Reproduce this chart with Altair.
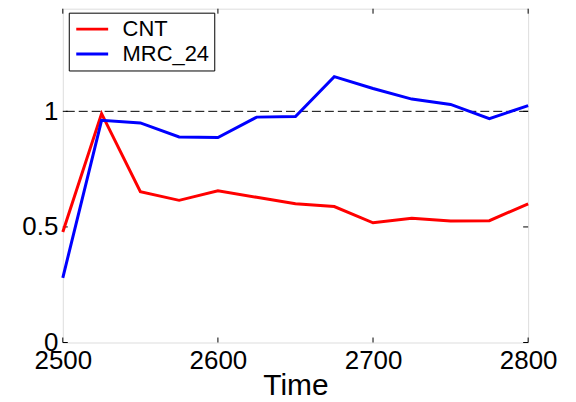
import altair as alt
import pandas as pd

time = [2500, 2525, 2550, 2575, 2600, 2625, 2650, 2675, 2700, 2725, 2750, 2775, 2800]
cnt = [0.478, 0.99, 0.652, 0.615, 0.656, 0.628, 0.60, 0.588, 0.518, 0.537, 0.526, 0.527, 0.60]
mrc = [0.28, 0.961, 0.95, 0.889, 0.887, 0.975, 0.978, 1.15, 1.099, 1.053, 1.03, 0.968, 1.025]
series_names = ["CNT", "MRC_24"]
series_colors = ["#ff0000", "#0000ff"]
x_ticks = [2500, 2600, 2700, 2800]
y_ticks = [0, 0.5, 1]
ref_value = 1

rows = []
for t, a, b in zip(time, cnt, mrc):
    rows.append({"Time": t, "value": a, "series": "CNT"})
    rows.append({"Time": t, "value": b, "series": "MRC_24"})
df = pd.DataFrame(rows)

W, H = 467, 335
FONT = "Liberation Sans"

xscale = alt.Scale(domain=[2500, 2800], nice=False, zero=False)
yscale = alt.Scale(domain=[0, 1.444], nice=False)

lines = alt.Chart(df).mark_line(strokeWidth=3).encode(
    x=alt.X("Time:Q", scale=xscale,
            axis=alt.Axis(values=x_ticks, format="d", ticks=False, tickSize=0, domain=False,
                          grid=False, labelFontSize=26, labelFont=FONT, labelPadding=5,
                          labelColor="black", title="Time", titleFontSize=30,
                          titleFont=FONT, titleFontWeight="normal", titleColor="black",
                          titlePadding=-3, labelFlush=False)),
    y=alt.Y("value:Q", scale=yscale,
            axis=alt.Axis(values=y_ticks, format=".1~f", ticks=False, tickSize=0, domain=False,
                          grid=False, labelFontSize=26, labelFont=FONT, labelPadding=5,
                          labelColor="black", title=None, labelFlush=False)),
    color=alt.Color("series:N",
                    scale=alt.Scale(domain=series_names, range=series_colors),
                    legend=alt.Legend(title=None, orient="none", legendX=6, legendY=4,
                                      symbolType="M-1.6,0H1.6", symbolSize=400,
                                      symbolStrokeWidth=3, symbolOffset=7,
                                      labelFontSize=22,
                                      labelFont=FONT, labelColor="black", labelOffset=19,
                                      strokeColor="black", fillColor="white",
                                      padding=5, rowPadding=2)),
)

ref = alt.Chart(pd.DataFrame({"y": [ref_value]})).mark_rule(
    color="black", strokeWidth=1, strokeDash=[9, 4]
).encode(y=alt.Y("y:Q", scale=yscale))

xt = pd.DataFrame({"x": x_ticks})
yt = pd.DataFrame({"y": y_ticks})
tick_style = dict(color="black", strokeWidth=1)
bottom_ticks = alt.Chart(xt).mark_rule(**tick_style).encode(
    x=alt.X("x:Q", scale=xscale), y=alt.value(H), y2=alt.value(H - 5))
top_ticks = alt.Chart(xt).mark_rule(**tick_style).encode(
    x=alt.X("x:Q", scale=xscale), y=alt.value(0), y2=alt.value(5))
left_ticks = alt.Chart(yt).mark_rule(**tick_style).encode(
    y=alt.Y("y:Q", scale=yscale), x=alt.value(0), x2=alt.value(5))
right_ticks = alt.Chart(yt).mark_rule(**tick_style).encode(
    y=alt.Y("y:Q", scale=yscale), x=alt.value(W - 5), x2=alt.value(W))

chart = alt.layer(ref, bottom_ticks, top_ticks, left_ticks, right_ticks, lines).properties(
    width=W, height=H,
    autosize=alt.AutoSizeParams(type="none"),
    padding={"left": 55, "top": 0, "right": 40, "bottom": 59},
).configure_view(stroke="black", strokeWidth=1).configure(background="white")

chart.save("out.html", embed_options={"renderer": "svg", "actions": False})
